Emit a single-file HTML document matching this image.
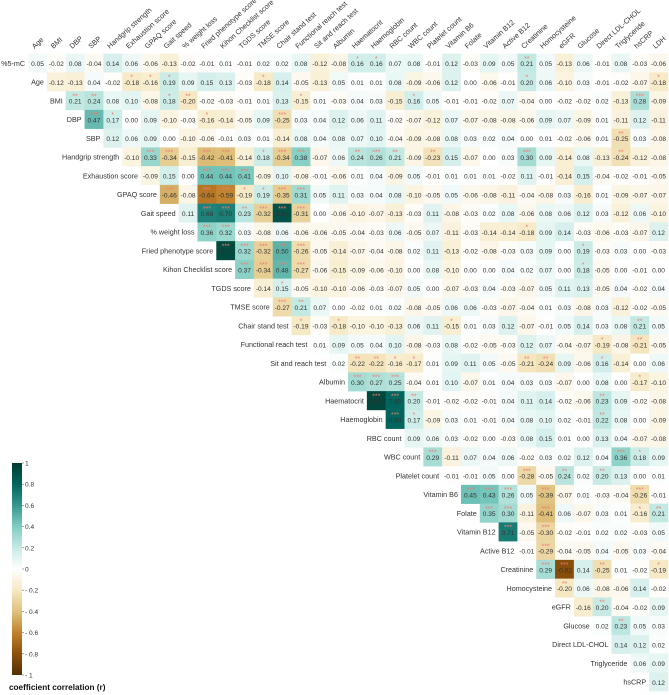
<!DOCTYPE html>
<html><head><meta charset="utf-8"><style>
html,body{margin:0;padding:0;background:#fff;}
svg{display:block;font-family:"Liberation Sans",Arial,sans-serif;}
</style></head><body>
<svg id="chart" width="669" height="695" viewBox="0 0 669 695" xmlns="http://www.w3.org/2000/svg">
<g id="cells"></g>
<g id="collabels"></g>
<g id="rowlabels"></g>
<g id="legend"></g>
</svg>
<script>
const colLabels = ["Age","BMI","DBP","SBP","Handgrip strength","Exhaustion score","GPAQ score","Gait speed","% weight loss","Fried phenotype score","Kihon Checklist score","TGDS score","TMSE score","Chair stand test","Functional reach test","Sit and reach test","Albumin","Haematocrit","Haemoglobin","RBC count","WBC count","Platelet count","Vitamin B6","Folate","Vitamin B12","Active B12","Creatinine","Homocysteine","eGFR","Glucose","Direct LDL-CHOL","Triglyceride","hsCRP","LDH"];
const rowLabels = ["%5-mC"].concat(colLabels.slice(0,33));
const corrRows = [
[0.05,-0.02,0.08,-0.04,0.14,0.06,-0.06,-0.13,-0.02,-0.01,0.01,-0.01,0.02,0.02,0.08,-0.12,-0.08,0.16,0.16,0.07,0.08,-0.01,0.12,-0.03,0.09,0.05,0.21,0.05,-0.13,0.06,-0.01,0.08,-0.03,-0.06],
[-0.12,-0.13,0.04,-0.02,-0.18,-0.16,0.19,0.09,0.15,0.13,-0.03,-0.18,0.14,-0.05,-0.13,0.05,0.01,0.01,0.08,-0.09,-0.06,0.12,0.00,-0.06,-0.01,0.20,0.06,-0.10,0.03,-0.01,-0.02,-0.07,-0.18],
[0.21,0.24,0.08,0.10,-0.08,0.18,-0.20,-0.02,-0.03,-0.01,0.01,0.13,-0.15,0.01,-0.03,0.04,0.03,-0.15,0.16,0.05,-0.01,-0.01,-0.02,0.07,-0.04,0.00,-0.02,-0.02,0.02,-0.13,0.28,-0.09],
[0.47,0.17,0.00,0.09,-0.10,-0.03,-0.16,-0.14,-0.05,0.09,-0.25,0.03,0.04,0.12,0.06,0.11,-0.02,-0.07,-0.12,0.07,-0.07,-0.08,-0.08,-0.06,0.09,0.07,-0.09,0.01,-0.11,0.12,-0.11],
[0.12,0.06,0.09,0.00,-0.10,-0.06,-0.01,0.03,0.01,-0.14,0.08,0.04,0.08,0.07,0.10,-0.04,-0.09,-0.08,0.08,0.03,0.02,0.04,0.00,0.01,-0.02,-0.06,0.01,-0.25,0.03,-0.08],
[-0.10,0.33,-0.34,-0.15,-0.42,-0.41,-0.14,0.18,-0.34,0.38,-0.07,0.06,0.24,0.26,0.21,-0.09,-0.23,0.15,-0.07,0.00,0.03,0.30,0.09,-0.14,0.08,-0.13,-0.24,-0.12,-0.08],
[-0.09,0.15,0.00,0.44,0.44,0.41,-0.09,0.10,-0.08,-0.01,-0.06,0.01,0.04,-0.09,0.05,-0.01,0.01,0.01,0.01,-0.02,0.11,-0.01,-0.14,0.15,-0.04,-0.02,-0.01,-0.05],
[-0.46,-0.08,-0.64,-0.59,-0.19,0.19,-0.35,0.31,0.05,0.11,0.03,0.04,0.08,-0.10,-0.05,0.05,-0.06,-0.08,-0.11,-0.04,-0.08,0.03,-0.16,0.01,-0.09,-0.07,-0.07],
[0.11,0.68,0.70,0.23,-0.32,0.89,-0.31,0.00,-0.06,-0.10,-0.07,-0.13,-0.03,0.11,-0.08,-0.03,0.02,0.08,-0.06,0.08,0.06,0.12,0.03,-0.12,0.06,-0.10],
[0.36,0.32,0.03,-0.08,0.06,-0.06,-0.06,-0.05,-0.04,-0.03,0.06,-0.05,0.07,-0.11,-0.03,-0.14,-0.14,-0.18,0.09,0.14,-0.03,-0.06,-0.03,-0.07,0.12],
[0.93,0.32,-0.32,0.50,-0.26,-0.05,-0.14,-0.07,-0.04,-0.08,0.02,0.11,-0.13,-0.02,-0.08,-0.03,0.03,0.09,0.00,0.19,-0.03,0.03,0.00,-0.03],
[0.37,-0.34,0.48,-0.27,-0.06,-0.15,-0.09,-0.06,-0.10,0.00,0.08,-0.10,0.00,0.00,0.04,0.02,0.07,0.00,0.18,-0.05,0.00,-0.01,0.00],
[-0.14,0.15,-0.05,-0.10,-0.10,-0.06,-0.03,-0.07,0.05,0.00,-0.07,-0.03,0.04,-0.03,-0.07,0.05,0.11,0.13,-0.05,0.04,-0.02,0.04],
[-0.27,0.21,0.07,0.00,-0.02,0.01,0.02,-0.08,-0.05,0.06,0.06,-0.03,-0.07,-0.04,0.01,0.03,-0.08,0.03,-0.12,-0.02,-0.05],
[-0.19,-0.03,-0.18,-0.10,-0.10,-0.13,0.06,0.11,-0.15,0.01,0.03,0.12,-0.07,-0.01,0.05,0.14,0.03,0.08,0.21,0.05],
[0.01,0.09,0.05,0.04,0.10,-0.08,-0.03,0.08,-0.02,-0.05,-0.03,0.12,0.07,-0.04,-0.07,-0.19,-0.08,-0.21,-0.05],
[0.02,-0.22,-0.22,-0.16,-0.17,0.01,0.09,0.11,0.05,-0.05,-0.21,-0.24,0.09,-0.06,0.16,-0.14,0.00,0.06],
[0.30,0.27,0.25,-0.04,0.01,0.10,-0.07,0.01,0.04,0.03,0.03,-0.07,0.00,0.08,0.00,-0.17,-0.10],
[0.95,0.80,0.20,-0.01,-0.02,-0.02,-0.01,0.04,0.11,0.14,-0.02,-0.06,0.23,0.09,-0.02,-0.08],
[0.80,0.17,-0.09,0.03,0.01,-0.01,0.04,0.08,0.10,0.02,-0.01,0.22,0.08,0.00,-0.09],
[0.09,0.06,0.03,-0.02,0.00,-0.03,0.08,0.15,0.01,0.00,0.13,0.04,-0.07,-0.08],
[0.29,-0.11,0.07,0.04,0.06,-0.02,0.03,0.02,0.12,0.04,0.36,0.18,0.09],
[-0.01,-0.01,0.05,0.00,-0.28,-0.05,0.24,0.02,0.20,0.13,0.00,0.01],
[0.45,0.43,0.26,0.05,-0.39,-0.07,0.01,-0.03,-0.04,-0.26,-0.01],
[0.35,0.30,-0.11,-0.41,0.06,-0.07,0.03,0.01,-0.16,0.21],
[0.71,-0.05,-0.30,-0.02,-0.01,0.02,0.02,-0.03,0.05],
[-0.01,-0.29,-0.04,-0.05,0.04,-0.05,0.03,-0.04],
[0.29,-0.82,0.14,-0.25,0.01,-0.02,-0.19],
[-0.20,0.06,-0.08,-0.06,0.14,-0.02],
[-0.16,0.20,-0.04,-0.02,0.09],
[0.02,0.23,0.05,0.03],
[0.14,0.12,0.02],
[0.06,0.09],
[0.12]
];
// significance: [row, col, number of stars]
const sigCells = [
[0,17,1],[0,18,1],[0,26,2],
[1,5,1],[1,6,1],[1,7,1],[1,12,1],[1,26,1],[1,33,1],
[2,2,2],[2,3,2],[2,7,1],[2,8,2],[2,14,1],[2,20,1],[2,32,3],
[3,3,3],[3,4,1],[3,9,1],[3,13,3],
[4,31,2],
[5,6,3],[5,7,3],[5,9,3],[5,10,3],[5,12,1],[5,13,3],[5,14,3],[5,17,2],[5,18,3],[5,19,2],[5,21,2],[5,26,3],[5,31,2],
[6,9,3],[6,10,3],[6,11,3],
[7,7,3],[7,9,3],[7,10,3],[7,11,1],[7,12,1],[7,13,3],[7,14,3],
[8,9,3],[8,10,3],[8,11,2],[8,12,3],[8,13,3],[8,14,3],
[9,9,3],[9,10,3],[9,26,1],
[10,10,3],[10,11,3],[10,12,3],[10,13,3],[10,14,3],[10,29,1],
[11,11,3],[11,12,3],[11,13,3],[11,14,3],[11,29,1],
[12,13,1],[13,13,3],[13,14,2],
[14,14,1],[14,16,1],[14,22,1],[14,32,2],
[15,30,1],[15,32,2],
[16,17,2],[16,18,2],[16,19,1],[16,20,1],[16,26,2],[16,27,2],[16,30,1],
[17,17,3],[17,18,3],[17,19,3],[17,32,1],
[18,18,3],[18,19,3],[18,20,2],[18,30,2],
[19,19,3],[19,20,1],[19,30,2],
[21,21,3],[21,31,3],[21,32,1],
[22,26,3],[22,28,2],[22,30,2],
[23,23,3],[23,24,3],[23,25,3],[23,27,3],[23,32,3],
[24,24,3],[24,25,3],[24,27,3],[24,32,1],[24,33,2],
[25,25,3],[25,27,3],[26,27,3],
[27,27,3],[27,28,3],[27,30,2],[27,33,1],
[28,28,2],[29,30,2],[30,31,2]
];
const legendTicks = [1,0.8,0.6,0.4,0.2,0,-0.2,-0.4,-0.6,-0.8,-1];

const NS="http://www.w3.org/2000/svg";
const CW=18.82, CH=18.75, X0=37.5, Y0=63;
const xOf=c=>X0+c*CW;
const yOf=r=>Y0+r*CH;
const stops=[[-1,[84,48,5]],[-0.8,[140,81,10]],[-0.6,[191,129,45]],[-0.4,[223,194,125]],[-0.2,[246,232,195]],[0,[255,255,255]],[0.2,[199,234,229]],[0.4,[128,205,193]],[0.6,[53,151,143]],[0.8,[1,102,94]],[1,[0,60,48]]];
function colorOf(v){
  v=Math.max(-1,Math.min(1,v));
  for(let i=0;i<stops.length-1;i++){
    const a=stops[i],b=stops[i+1];
    if(v>=a[0]&&v<=b[0]){const t=(v-a[0])/(b[0]-a[0]);
      const c=a[1].map((x,k)=>Math.round(x+(b[1][k]-x)*t));
      return `rgb(${c[0]},${c[1]},${c[2]})`;}
  }
  return "#fff";
}
function mk(tag,attrs,parent){const e=document.createElementNS(NS,tag);for(const k in attrs)e.setAttribute(k,attrs[k]);parent.appendChild(e);return e;}
const fmt=v=>v.toFixed(2);
const starMap={};
sigCells.forEach(s=>{starMap[s[0]+"_"+s[1]]=s[2];});

const gCells=document.getElementById('cells');
corrRows.forEach((row,r)=>{
  row.forEach((v,i)=>{
    const c=r+i;
    const rect=mk('rect',{x:xOf(c)-CW/2,y:yOf(r)-CH/2,width:CW+0.3,height:CH+0.3,fill:colorOf(v)},gCells);
    
    
    const t=mk('text',{x:xOf(c),y:yOf(r)+3.2,'text-anchor':'middle','font-size':'6.6',fill:'#333'},gCells);
    t.textContent=fmt(v);
    
    
    const n=starMap[r+"_"+c];
    if(n){
      const s=mk('text',{x:xOf(c),y:yOf(r)-2.2,'text-anchor':'middle','font-size':'7',fill:'#f07b72'},gCells);
      s.textContent="*".repeat(n);
      
      
    }
  });
});
const gCol=document.getElementById('collabels');
colLabels.forEach((l,c)=>{
  const x=xOf(c)-3, y=Y0-14;
  const t=mk('text',{x:x,y:y,'font-size':'7.2',fill:'#333',transform:`rotate(-42 ${x} ${y})`},gCol);
  t.textContent=l;
  
  
});
const gRow=document.getElementById('rowlabels');
rowLabels.forEach((l,r)=>{
  const t=mk('text',{x:xOf(r)-CW/2-3,y:yOf(r)+2.8,'text-anchor':'end','font-size':'7.2',fill:'#333'},gRow);
  t.textContent=l;
  
  
});
// legend
const gL=document.getElementById('legend');
const LT=463, LB=675, LX=12, LW=10;
const defs=mk('defs',{},gL);
const grad=mk('linearGradient',{id:'cbar',x1:0,y1:0,x2:0,y2:1},defs);
stops.slice().reverse().forEach(s=>{mk('stop',{offset:((1-s[0])/2*100)+'%','stop-color':colorOf(s[0])},grad);});
const bar=mk('rect',{x:LX,y:LT,width:LW,height:LB-LT,fill:'url(#cbar)'},gL);


const ly=v=>LT+(1-v)/2*(LB-LT);
legendTicks.forEach(v=>{
  mk('line',{x1:LX+LW,x2:LX+LW+2,y1:ly(v),y2:ly(v),stroke:'#666','stroke-width':0.6},gL);
  const t=mk('text',{x:LX+LW+3,y:ly(v)+2.5,'font-size':'6.6',fill:'#333'},gL);
  t.textContent=v===0?"0":(v<0?"- "+Math.abs(v):String(v));
  
  
});
const title=mk('text',{x:9,y:690,'font-size':'8.2','font-weight':'bold',fill:'#111'},gL);
title.textContent="coefficient correlation (r)";


</script>
</body></html>
